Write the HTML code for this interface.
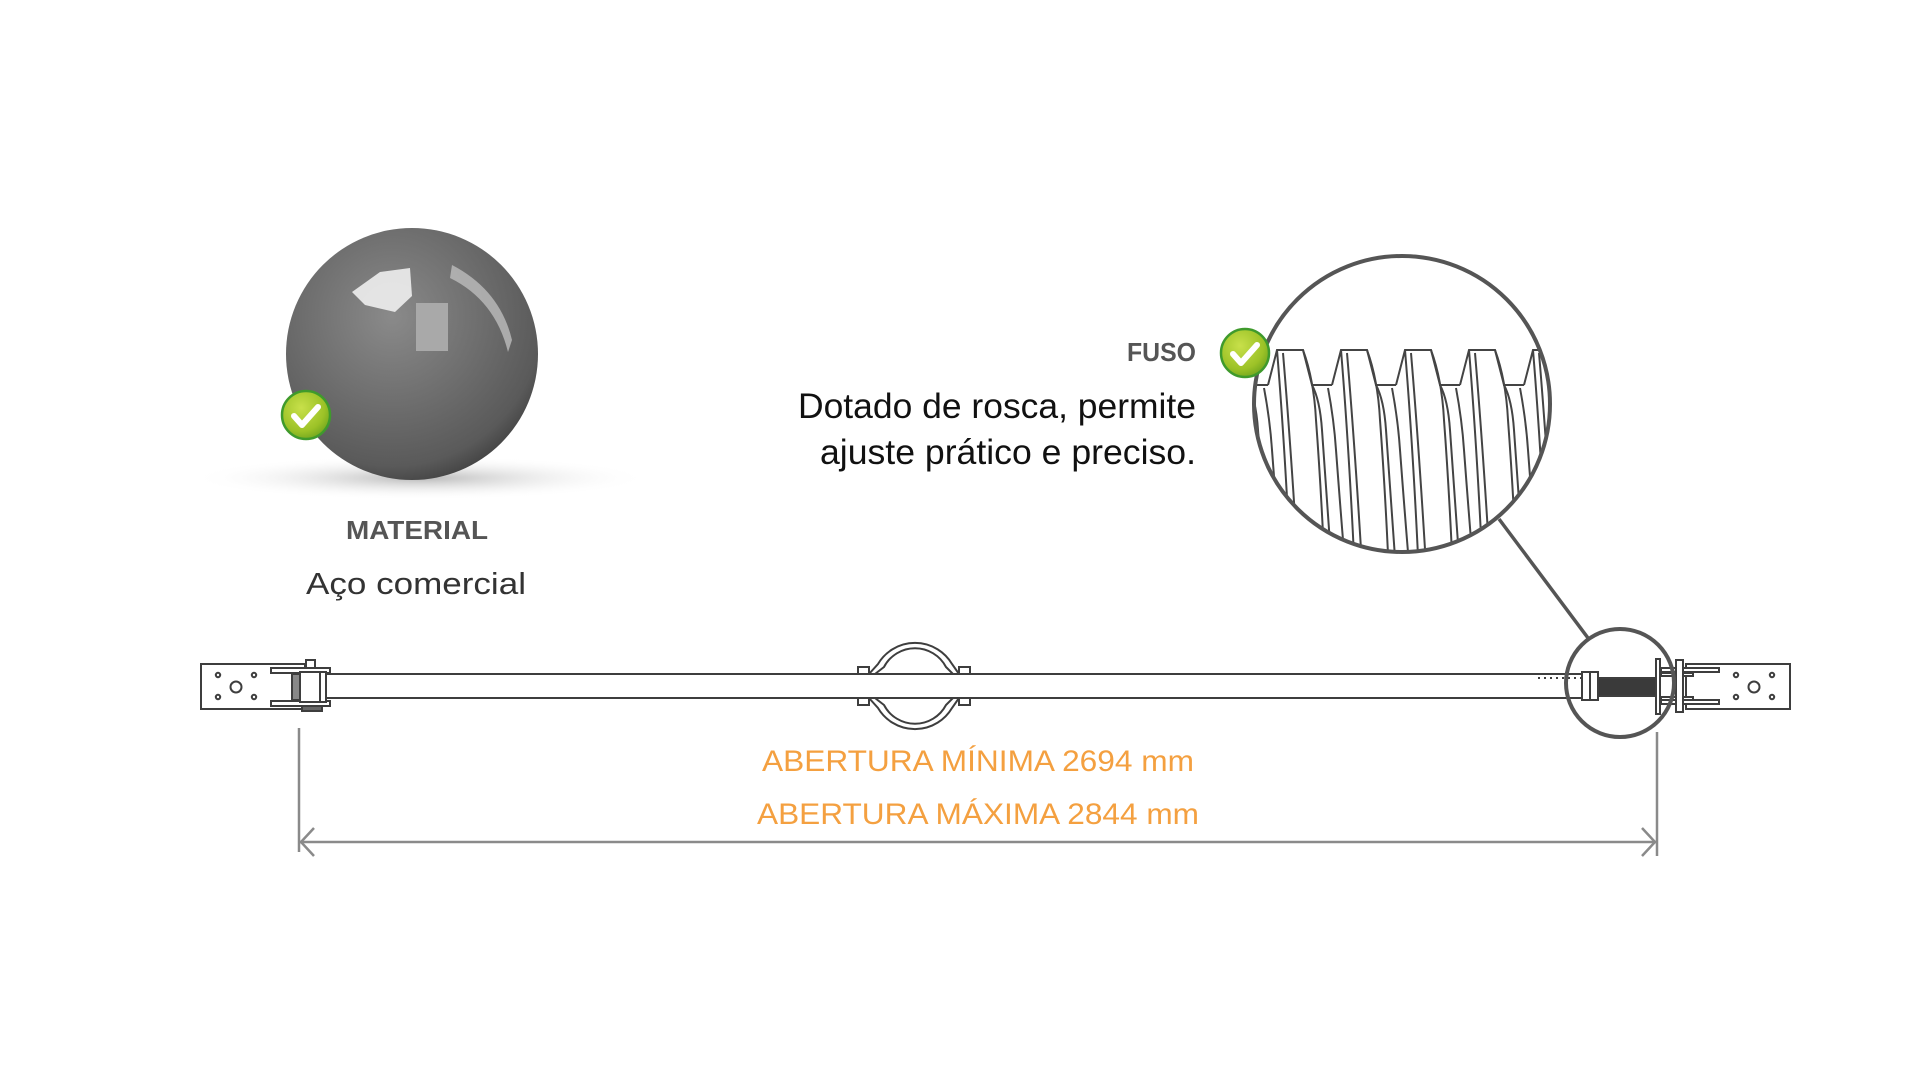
<!DOCTYPE html>
<html><head><meta charset="utf-8"><style>
html,body{margin:0;padding:0;background:#fff;width:1920px;height:1080px;overflow:hidden}
svg{display:block}
</style></head><body>
<svg width="1920" height="1080" viewBox="0 0 1920 1080" xmlns="http://www.w3.org/2000/svg">
<defs>
<radialGradient id="ball" cx="0.42" cy="0.35" r="0.7">
<stop offset="0" stop-color="#8a8a8a"/><stop offset="0.5" stop-color="#6e6e6e"/><stop offset="0.85" stop-color="#5a5a5a"/><stop offset="1" stop-color="#3e3e3e"/>
</radialGradient>
<radialGradient id="shadow" cx="0.5" cy="0.5" r="0.5">
<stop offset="0" stop-color="#999" stop-opacity="0.7"/><stop offset="1" stop-color="#fff" stop-opacity="0"/>
</radialGradient>
<radialGradient id="chk" cx="0.4" cy="0.35" r="0.7">
<stop offset="0" stop-color="#c8e04a"/><stop offset="0.7" stop-color="#9cc227"/><stop offset="1" stop-color="#6fa51e"/>
</radialGradient>
<clipPath id="bigc"><circle cx="1402" cy="404" r="147"/></clipPath>
</defs>

<!-- sphere -->
<ellipse cx="420" cy="478" rx="230" ry="22" fill="url(#shadow)"/>
<circle cx="412" cy="354" r="126" fill="url(#ball)"/>
<path d="M352 292 L380 272 L410 268 L412 296 L395 312 L365 305 Z" fill="#eee" opacity="0.9"/>
<rect x="416" y="303" width="32" height="48" fill="#a9a9a9"/>
<path d="M452 265 Q500 290 512 340 L508 352 Q495 300 450 278 Z" fill="#bdbdbd" opacity="0.8"/>
<!-- check 1 -->
<g transform="translate(306,415)">
<circle r="24" fill="url(#chk)" stroke="#3f9a2c" stroke-width="2.5"/>
<path d="M-12 1 L-4 10 L12 -8" fill="none" stroke="#fff" stroke-width="6" stroke-linecap="round" stroke-linejoin="round"/>
</g>

<text x="417" y="539" text-anchor="middle" font-family="Liberation Sans, sans-serif" font-weight="bold" font-size="26" fill="#555" textLength="142" lengthAdjust="spacingAndGlyphs">MATERIAL</text>
<text x="416" y="594" text-anchor="middle" font-family="Liberation Sans, sans-serif" font-size="31" fill="#333" textLength="220" lengthAdjust="spacingAndGlyphs">Aço comercial</text>

<text x="1196" y="361" text-anchor="end" font-family="Liberation Sans, sans-serif" font-weight="bold" font-size="26" fill="#555" textLength="69" lengthAdjust="spacingAndGlyphs">FUSO</text>
<text x="1196" y="418" text-anchor="end" font-family="Liberation Sans, sans-serif" font-size="35" fill="#111" textLength="398" lengthAdjust="spacingAndGlyphs">Dotado de rosca, permite</text>
<text x="1196" y="464" text-anchor="end" font-family="Liberation Sans, sans-serif" font-size="35" fill="#111" textLength="376" lengthAdjust="spacingAndGlyphs">ajuste prático e preciso.</text>

<!-- big circle thread -->
<g clip-path="url(#bigc)" fill="none" stroke="#444" stroke-width="2">
<g id="tooth">
<path d="M1204 385 L1213 350 L1239 350 L1248 385 L1268 385"/>
<path d="M1213 350 Q1222 460 1228 600"/>
<path d="M1219 353 Q1228 460 1236 600"/>
<path d="M1239 350 Q1250 380 1252 420 Q1258 500 1262 600"/>
<path d="M1248 385 Q1256 400 1258 430 Q1264 520 1270 600"/>
<path d="M1264 388 Q1270 420 1272 450 Q1278 530 1284 600"/>
</g>
<use href="#tooth" x="64"/><use href="#tooth" x="128"/><use href="#tooth" x="192"/><use href="#tooth" x="256"/><use href="#tooth" x="320"/>
</g>
<circle cx="1402" cy="404" r="148" fill="none" stroke="#555" stroke-width="4"/>
<line x1="1499" y1="519" x2="1588" y2="638" stroke="#555" stroke-width="3.5"/>
<!-- check 2 -->
<g transform="translate(1245,353)">
<circle r="24" fill="url(#chk)" stroke="#3f9a2c" stroke-width="2.5"/>
<path d="M-12 1 L-4 10 L12 -8" fill="none" stroke="#fff" stroke-width="6" stroke-linecap="round" stroke-linejoin="round"/>
</g>

<!-- bar -->
<g stroke="#3e3e3e" stroke-width="2" fill="#fff">
<line x1="326" y1="674" x2="1582" y2="674"/>
<line x1="326" y1="698" x2="1582" y2="698"/>
<!-- left bracket -->
<rect x="201" y="664" width="104" height="45"/>
<circle cx="218" cy="675" r="2.2"/><circle cx="254" cy="675" r="2.2"/><circle cx="218" cy="697" r="2.2"/><circle cx="254" cy="697" r="2.2"/>
<circle cx="236" cy="687" r="5.5"/>
<rect x="271" y="668" width="59" height="5"/>
<rect x="271" y="701" width="59" height="5"/>
<rect x="306" y="660" width="9" height="8"/>
<rect x="302" y="706" width="20" height="5" fill="#666"/>
<rect x="292" y="674" width="8" height="26" fill="#888"/>
<rect x="300" y="672" width="26" height="30"/>
<line x1="320" y1="672" x2="320" y2="702"/>
<!-- middle clamp -->
<rect x="858" y="667" width="11" height="7"/><rect x="959" y="667" width="11" height="7"/>
<rect x="858" y="698" width="11" height="7"/><rect x="959" y="698" width="11" height="7"/>
<path d="M869 674 L878 664 A43 43 0 0 1 952 664 L959 674" fill="none"/>
<path d="M875 674 L884 667 A35 35 0 0 1 946 667 L953 674" fill="none"/>
<path d="M869 698 L878 708 A43 43 0 0 0 952 708 L959 698" fill="none"/>
<path d="M875 698 L884 705 A35 35 0 0 0 946 705 L953 698" fill="none"/>
<!-- right side -->
<line x1="1538" y1="678" x2="1582" y2="678" stroke-dasharray="2 4"/>
<rect x="1582" y="672" width="16" height="28"/>
<line x1="1590" y1="672" x2="1590" y2="700"/>
<rect x="1598" y="678" width="58" height="18" fill="#3a3a3a"/>
<rect x="1686" y="664" width="104" height="45"/>
<circle cx="1736" cy="675" r="2.2"/><circle cx="1772" cy="675" r="2.2"/><circle cx="1736" cy="697" r="2.2"/><circle cx="1772" cy="697" r="2.2"/>
<circle cx="1754" cy="687" r="5.5"/>
<rect x="1661" y="668" width="58" height="4"/>
<rect x="1661" y="700" width="58" height="4"/>
<rect x="1661" y="673" width="32" height="3"/>
<rect x="1661" y="697" width="32" height="3"/>
<rect x="1676" y="660" width="7" height="52"/>
<rect x="1656" y="659" width="4" height="55"/>
</g>
<circle cx="1620" cy="683" r="54" fill="none" stroke="#555" stroke-width="4"/>

<!-- dimension -->
<g stroke="#8a8a8a" stroke-width="2.5" fill="none">
<line x1="299" y1="728" x2="299" y2="852"/>
<line x1="1657" y1="732" x2="1657" y2="856"/>
<line x1="300" y1="842" x2="1656" y2="842"/>
<path d="M314 828 L301 842 L314 856"/>
<path d="M1642 828 L1655 842 L1642 856"/>
</g>
<text x="978" y="771" text-anchor="middle" font-family="Liberation Sans, sans-serif" font-size="30" fill="#f4a040" textLength="432" lengthAdjust="spacingAndGlyphs">ABERTURA MÍNIMA 2694 mm</text>
<text x="978" y="824" text-anchor="middle" font-family="Liberation Sans, sans-serif" font-size="30" fill="#f4a040" textLength="442" lengthAdjust="spacingAndGlyphs">ABERTURA MÁXIMA 2844 mm</text>
</svg>
</body></html>
